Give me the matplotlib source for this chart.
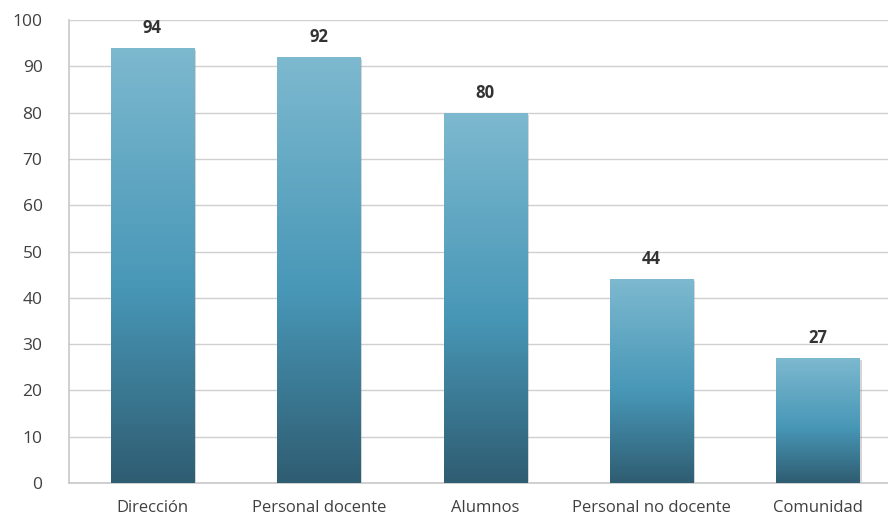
import matplotlib
matplotlib.use("Agg")
import matplotlib.pyplot as plt
import numpy as np
from matplotlib.colors import LinearSegmentedColormap
from matplotlib.patches import Rectangle
import matplotlib.patheffects as pe

categories = ["Dirección", "Personal docente", "Alumnos", "Personal no docente", "Comunidad"]
values = [94, 92, 80, 44, 27]
yticks = [0, 10, 20, 30, 40, 50, 60, 70, 80, 90, 100]

plt.rcParams['font.family'] = ['Open Sans', 'DejaVu Sans']

fig = plt.figure(figsize=(8.88, 5.16), dpi=100)
ax = fig.add_axes([0.0777, 0.064, 0.9223, 0.897])

cmap = LinearSegmentedColormap.from_list(
    "g", [(0.0, "#2f5d72"), (0.45, "#4897b7"), (1.0, "#7db9cf")])
grad = np.linspace(0, 1, 256).reshape(-1, 1)

width = 0.5
x = np.arange(len(categories))
bars = ax.bar(x, values, width=width, color="none", edgecolor="none", zorder=3)
for b in bars:
    x0, y0 = b.get_x(), b.get_y()
    w, h = b.get_width(), b.get_height()
    sh = Rectangle((x0, y0), w, h, facecolor="#000000", alpha=0.0,
                   edgecolor="none", zorder=2.5,
                   path_effects=[pe.SimplePatchShadow(offset=(1.5, -1.5), shadow_rgbFace="#888888", alpha=0.35)])
    ax.add_patch(sh)
    im = ax.imshow(grad, cmap=cmap, origin="lower", aspect="auto",
                   extent=(x0, x0 + w, y0, y0 + h), zorder=3)
    clip = Rectangle((x0, y0), w, h, transform=ax.transData, facecolor="none", edgecolor="none")
    ax.add_patch(clip)
    im.set_clip_path(clip)

for xi, v in zip(x, values):
    ax.annotate(str(v), (xi, v), xytext=(0, 8), textcoords="offset points",
                ha="center", va="bottom", fontsize=12, fontweight="bold", color="#333333")

ax.set_xlim(-0.5, 4.42)
ax.set_ylim(0, 100)
ax.set_yticks(yticks)
ax.set_xticks(x)
ax.set_xticklabels(categories)
ax.tick_params(axis="both", length=0, colors="#404040")
ax.tick_params(axis="y", pad=19, labelsize=12.5)
ax.tick_params(axis="x", pad=12, labelsize=12)
for lab in ax.get_yticklabels():
    lab.set_horizontalalignment("right")
ax.yaxis.grid(True, color="#d0d0d0", linewidth=1.0, zorder=0)
ax.set_axisbelow(True)
for s in ["top", "right"]:
    ax.spines[s].set_visible(False)
for s in ["left", "bottom"]:
    ax.spines[s].set_color("#c8c8c8")
    ax.spines[s].set_linewidth(1.2)

fig.savefig("out.png", dpi=100)
